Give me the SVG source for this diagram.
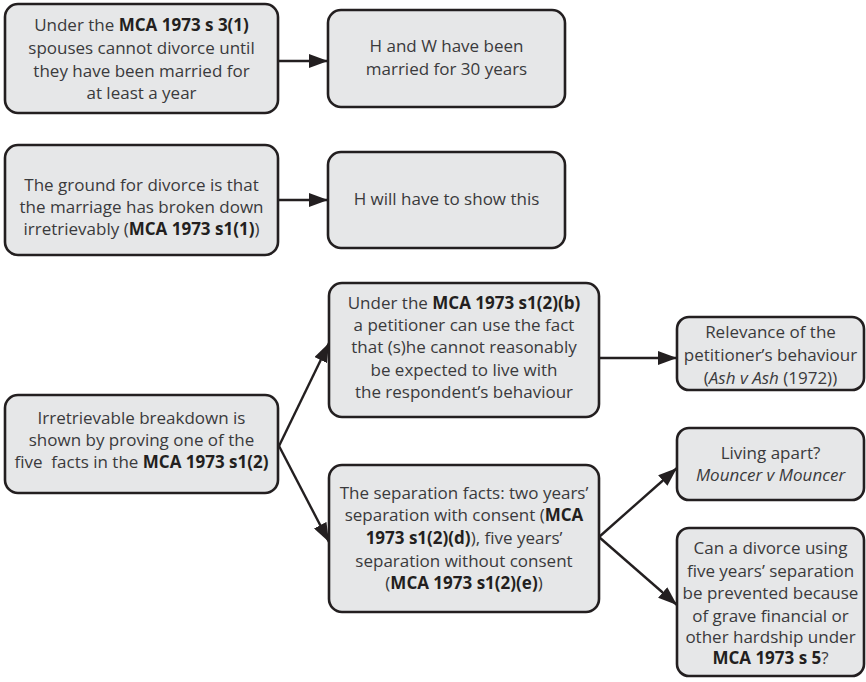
<svg xmlns="http://www.w3.org/2000/svg" width="866" height="682" viewBox="0 0 866 682">
  <defs>
    <marker id="arrow" markerUnits="userSpaceOnUse" markerWidth="20" markerHeight="14" refX="19" refY="7" orient="auto">
      <path d="M0,0 L19,7 L0,14 z" fill="#231f20"/>
    </marker>
    <style>
      .box { fill: #e6e7e8; stroke: #231f20; stroke-width: 2.6; }
      .t { font-family: "Open Sans", "Noto Sans", "Liberation Sans", sans-serif; font-size: 17px; fill: #3a3a3c; text-anchor: middle; }
      .b { font-weight: 700; fill: #231f20; }
      .i { font-style: italic; }
      .conn { stroke: #231f20; stroke-width: 2.4; fill: none; marker-end: url(#arrow); }
    </style>
  </defs>
  <rect width="866" height="682" fill="#ffffff"/>

  <!-- connectors -->
  <g id="connectors">
    <line class="conn" x1="279" y1="61" x2="328" y2="61"/>
    <line class="conn" x1="279" y1="200" x2="328" y2="200"/>
    <line class="conn" x1="279" y1="446" x2="329" y2="343"/>
    <line class="conn" x1="279" y1="446" x2="329" y2="542"/>
    <line class="conn" x1="599" y1="358" x2="677" y2="358"/>
    <line class="conn" x1="599" y1="537" x2="677" y2="468"/>
    <line class="conn" x1="599" y1="537" x2="677" y2="605"/>
  </g>

  <g id="min-marriage">
    <rect class="box" x="5" y="4" width="273" height="109" rx="13"/>
    <text class="t" x="141.5" y="31">Under the <tspan class="b">MCA 1973 s 3(1)</tspan></text>
    <text class="t" x="141.5" y="54">spouses cannot divorce until</text>
    <text class="t" x="141.5" y="77">they have been married for</text>
    <text class="t" x="141.5" y="99">at least a year</text>
  </g>

  <g id="thirty-years">
    <rect class="box" x="328" y="10" width="237" height="97" rx="13"/>
    <text class="t" x="446.5" y="52">H and W have been</text>
    <text class="t" x="446.5" y="75">married for 30 years</text>
  </g>

  <g id="ground">
    <rect class="box" x="5" y="145" width="273" height="110" rx="13"/>
    <text class="t" x="141.5" y="191">The ground for divorce is that</text>
    <text class="t" x="141.5" y="213">the marriage has broken down</text>
    <text class="t" x="141.5" y="235">irretrievably (<tspan class="b">MCA 1973 s1(1)</tspan>)</text>
  </g>

  <g id="show-this">
    <rect class="box" x="328" y="152" width="237" height="96" rx="13"/>
    <text class="t" x="446.5" y="205">H will have to show this</text>
  </g>

  <g id="breakdown">
    <rect class="box" x="5" y="395" width="273" height="98" rx="13"/>
    <text class="t" x="141.5" y="424">Irretrievable breakdown is</text>
    <text class="t" x="141.5" y="446">shown by proving one of the</text>
    <text class="t" x="141.5" y="468">five&#160; facts in the <tspan class="b">MCA 1973 s1(2)</tspan></text>
  </g>

  <g id="behaviour-fact">
    <rect class="box" x="329" y="283" width="270" height="134" rx="13"/>
    <text class="t" x="464" y="309">Under the <tspan class="b">MCA 1973 s1(2)(b)</tspan></text>
    <text class="t" x="464" y="331">a petitioner can use the fact</text>
    <text class="t" x="464" y="353">that (s)he cannot reasonably</text>
    <text class="t" x="464" y="376">be expected to live with</text>
    <text class="t" x="464" y="398">the respondent’s behaviour</text>
  </g>

  <g id="separation-facts">
    <rect class="box" x="329" y="465" width="270" height="147" rx="13"/>
    <text class="t" x="464" y="499">The separation facts: two years’</text>
    <text class="t" x="464" y="521">separation with consent (<tspan class="b">MCA</tspan></text>
    <text class="t" x="464" y="544"><tspan class="b">1973 s1(2)(d)</tspan>), five years’</text>
    <text class="t" x="464" y="567">separation without consent</text>
    <text class="t" x="464" y="589">(<tspan class="b">MCA 1973 s1(2)(e)</tspan>)</text>
  </g>

  <g id="petitioner-behaviour">
    <rect class="box" x="677" y="317" width="187" height="73" rx="12"/>
    <text class="t" x="770.5" y="338">Relevance of the</text>
    <text class="t" x="770.5" y="361">petitioner’s behaviour</text>
    <text class="t" x="770.5" y="384">(<tspan class="i">Ash v Ash</tspan> (1972))</text>
  </g>

  <g id="living-apart">
    <rect class="box" x="677" y="428" width="187" height="72" rx="12"/>
    <text class="t" x="770.5" y="459">Living apart?</text>
    <text class="t i" x="770.5" y="481">Mouncer v Mouncer</text>
  </g>

  <g id="hardship">
    <rect class="box" x="677" y="528" width="187" height="148" rx="12"/>
    <text class="t" x="770.5" y="554">Can a divorce using</text>
    <text class="t" x="770.5" y="577">five years’ separation</text>
    <text class="t" x="770.5" y="599">be prevented because</text>
    <text class="t" x="770.5" y="622">of grave financial or</text>
    <text class="t" x="770.5" y="643">other hardship under</text>
    <text class="t" x="770.5" y="664"><tspan class="b">MCA 1973 s 5</tspan>?</text>
  </g>
</svg>
